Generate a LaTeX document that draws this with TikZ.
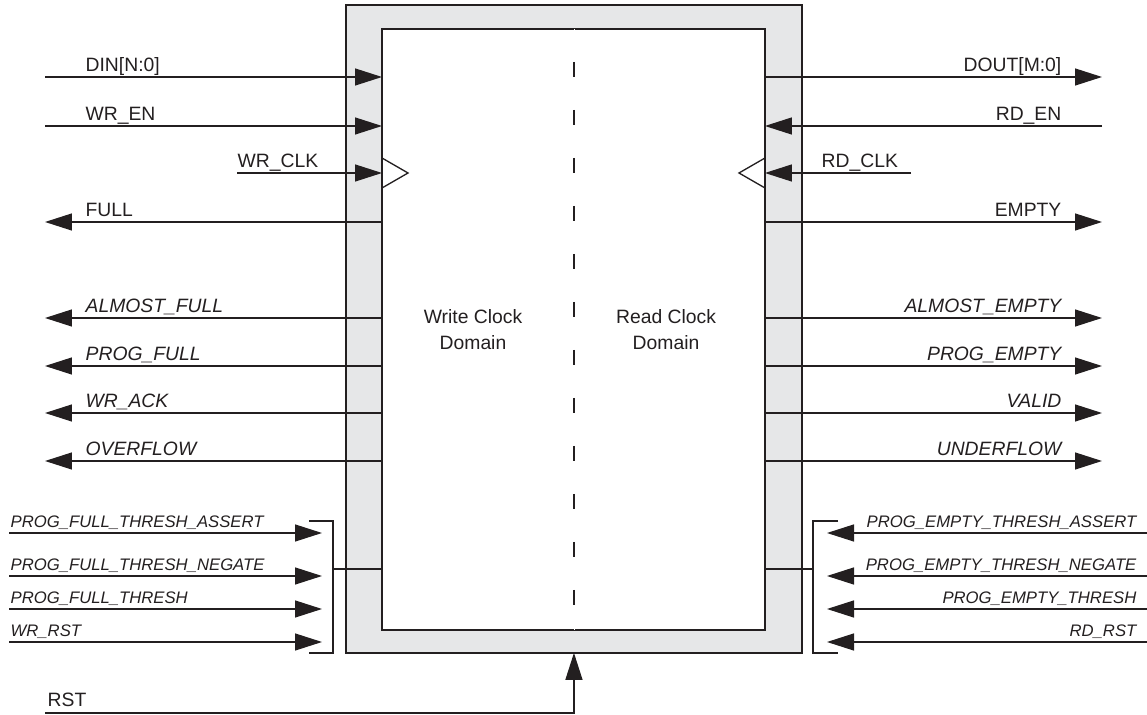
\documentclass[tikz,border=0pt]{standalone}
\usepackage{fontspec}
\setmainfont{Liberation Sans}
\usetikzlibrary{arrows.meta, positioning}
\definecolor{pingray}{HTML}{231F20}
\definecolor{bandgray}{HTML}{E6E7E8}

\begin{document}
\begin{tikzpicture}[
    x=0.02cm, y=-0.02cm,
    line width=0.75pt, draw=pingray,
    band/.style={draw, fill=bandgray, minimum width=9.12cm, minimum height=12.96cm, inner sep=0pt, outer sep=0pt},
    core/.style={draw, fill=white, minimum width=7.66cm, minimum height=12.02cm, inner sep=0pt, outer sep=0pt},
    arrow/.style={-{Triangle[length=0.54cm, width=0.34cm]}},
    lbl/.style={font=\fontsize{11}{13}\selectfont, text=pingray, inner sep=0pt},
    ilbl/.style={lbl, font=\fontsize{11}{13}\selectfont\itshape},
    slbl/.style={lbl, font=\fontsize{9.5}{11}\selectfont\itshape}
]
\useasboundingbox (0,0) rectangle (1147,715);

% FIFO body
\node[band, anchor=north west] (band) at (346,5) {};
\node[core, anchor=north west] (core) at (382,29) {};
\draw[white, line width=0.4pt] (574,29) -- (574,630);
\draw[line width=1.6pt, dash pattern=on 0.3cm off 0.66cm, dash phase=0.3cm] (574,29) -- (574,630);
\node[lbl, align=center, font=\fontsize{11}{14.8}\selectfont] (wrdom) at (473,330) {Write Clock\\Domain};
\node[lbl, align=center, font=\fontsize{11}{14.8}\selectfont] (rddom) at (666,330) {Read Clock\\Domain};

% write side
\coordinate (din) at (45,77);
\coordinate (wren) at (45,126);
\coordinate (wrclk) at (237,173);
\coordinate (full) at (45,222);
\coordinate (afull) at (45,318);
\coordinate (pfull) at (45,366);
\coordinate (wrack) at (45,413);
\coordinate (ovf) at (45,461);
\draw[arrow] (din) -- (din -| core.west);
\draw[arrow] (wren) -- (wren -| core.west);
\draw[arrow] (wrclk) -- (wrclk -| core.west);
\draw (382,158) -- (408,173) -- (382,188);
\draw[arrow] (full -| core.west) -- (full);
\draw[arrow] (afull -| core.west) -- (afull);
\draw[arrow] (pfull -| core.west) -- (pfull);
\draw[arrow] (wrack -| core.west) -- (wrack);
\draw[arrow] (ovf -| core.west) -- (ovf);
\node[lbl, anchor=base west] (dinlbl) at (85,72) {DIN[N:0]};
\node[lbl, anchor=base west] (wrenlbl) at (85,121) {WR\_EN};
\node[lbl, anchor=base west] (wrclklbl) at (237,168) {WR\_CLK};
\node[lbl, anchor=base west] (fulllbl) at (85,217) {FULL};
\node[ilbl, anchor=base west] (afulllbl) at (85,313) {ALMOST\_FULL};
\node[ilbl, anchor=base west] (pfulllbl) at (85,361) {PROG\_FULL};
\node[ilbl, anchor=base west] (wracklbl) at (85,408) {WR\_ACK};
\node[ilbl, anchor=base west] (ovflbl) at (85,456) {OVERFLOW};

% read side
\coordinate (dout) at (1102,77);
\coordinate (rden) at (1102,126);
\coordinate (rdclk) at (911,173);
\coordinate (empty) at (1102,222);
\coordinate (aempty) at (1102,318);
\coordinate (pempty) at (1102,366);
\coordinate (valid) at (1102,413);
\coordinate (udf) at (1102,461);
\draw[arrow] (dout -| core.east) -- (dout);
\draw[arrow] (rden) -- (rden -| core.east);
\draw[arrow] (rdclk) -- (rdclk -| core.east);
\draw (765,158) -- (739,173) -- (765,188);
\draw[arrow] (empty -| core.east) -- (empty);
\draw[arrow] (aempty -| core.east) -- (aempty);
\draw[arrow] (pempty -| core.east) -- (pempty);
\draw[arrow] (valid -| core.east) -- (valid);
\draw[arrow] (udf -| core.east) -- (udf);
\node[lbl, anchor=base east] (doutlbl) at (1062,72) {DOUT[M:0]};
\node[lbl, anchor=base east] (rdenlbl) at (1062,121) {RD\_EN};
\node[lbl, anchor=base west] (rdclklbl) at (821,168) {RD\_CLK};
\node[lbl, anchor=base east] (emptylbl) at (1062,217) {EMPTY};
\node[ilbl, anchor=base east] (aemptylbl) at (1062,313) {ALMOST\_EMPTY};
\node[ilbl, anchor=base east] (pemptylbl) at (1062,361) {PROG\_EMPTY};
\node[ilbl, anchor=base east] (validlbl) at (1062,408) {VALID};
\node[ilbl, anchor=base east] (udflbl) at (1062,456) {UNDERFLOW};

% threshold and reset pins, left
\coordinate (pfta) at (9,533);
\coordinate (pftn) at (9,576);
\coordinate (pft) at (9,609);
\coordinate (wrrst) at (9,642);
\coordinate (lbrk) at (333,569);
\draw[arrow] (pfta) -- (322,533);
\draw[arrow] (pftn) -- (322,576);
\draw[arrow] (pft) -- (322,609);
\draw[arrow] (wrrst) -- (322,642);
\draw (309,521) -- (333,521) -- (333,653) -- (309,653);
\draw (lbrk) -- (lbrk -| core.west);
\node[slbl, anchor=base west] (pftalbl) at (10,528) {PROG\_FULL\_THRESH\_ASSERT};
\node[slbl, anchor=base west] (pftnlbl) at (10,571) {PROG\_FULL\_THRESH\_NEGATE};
\node[slbl, anchor=base west] (pftlbl) at (10,604) {PROG\_FULL\_THRESH};
\node[slbl, anchor=base west] (wrrstlbl) at (10,637) {WR\_RST};

% threshold and reset pins, right
\coordinate (peta) at (1147,533);
\coordinate (petn) at (1147,576);
\coordinate (pet) at (1147,609);
\coordinate (rdrst) at (1147,642);
\coordinate (rbrk) at (813,569);
\draw[arrow] (peta) -- (827,533);
\draw[arrow] (petn) -- (827,576);
\draw[arrow] (pet) -- (827,609);
\draw[arrow] (rdrst) -- (827,642);
\draw (838,521) -- (813,521) -- (813,653) -- (838,653);
\draw (rbrk) -- (rbrk -| core.east);
\node[slbl, anchor=base east] (petalbl) at (1137,528) {PROG\_EMPTY\_THRESH\_ASSERT};
\node[slbl, anchor=base east] (petnlbl) at (1137,571) {PROG\_EMPTY\_THRESH\_NEGATE};
\node[slbl, anchor=base east] (petlbl) at (1137,604) {PROG\_EMPTY\_THRESH};
\node[slbl, anchor=base east] (rdrstlbl) at (1137,637) {RD\_RST};

% common reset
\coordinate (rst) at (45,713);
\draw[arrow] (rst) -| (band.south);
\node[lbl, anchor=base west] (rstlbl) at (47,707) {RST};
\end{tikzpicture}
\end{document}
